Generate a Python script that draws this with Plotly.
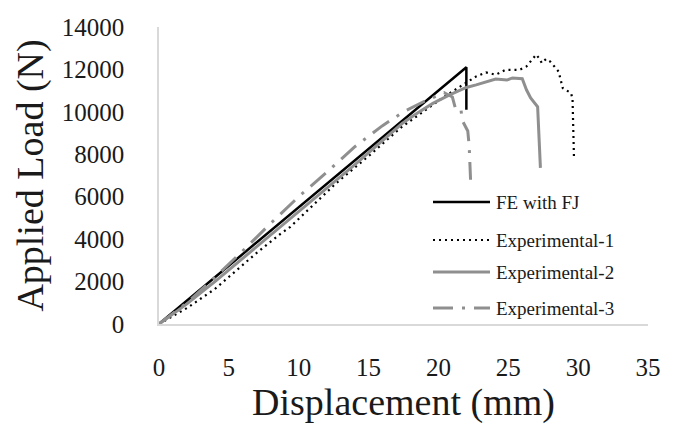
import plotly.graph_objects as go

# ---- data ----
fe_x = [0, 22.0, 22.0]
fe_y = [0, 12100, 10100]

exp1_x = [0, 2, 4, 4.7, 6.9, 8.6, 9.4, 12.7, 15.1, 17.3, 18.9, 20.3, 21.4, 22.7, 23.4, 24.1,
          24.8, 25.8, 26.3, 26.6, 27.0, 27.2, 27.4, 27.7, 28.0, 28.3, 28.6, 28.9, 29.1, 29.5,
          29.6, 29.7]
exp1_y = [0, 750, 1650, 2050, 3300, 4200, 4580, 6650, 7970, 9250, 10000, 10660, 11130, 11670,
          11860, 11750, 11980, 11980, 12140, 12370, 12700, 12530, 12300, 12490, 12370, 12140,
          11900, 11120, 11040, 10880, 10570, 7890]

exp2_x = [0, 2, 4, 6, 8, 10, 12, 14, 16, 17.4, 18.5, 19.6, 20.8, 22.0, 22.7, 23.4, 24.1,
          24.9, 25.3, 26.0, 26.3, 26.6, 27.0, 27.1, 27.3]
exp2_y = [0, 950, 2000, 3100, 4200, 5300, 6400, 7500, 8650, 9450, 9950, 10400, 10800, 11150,
          11270, 11400, 11550, 11500, 11600, 11560, 11040, 10660, 10330, 10240, 7360]

exp3_x = [0, 2, 4, 6, 8, 10, 12, 14, 16, 17.5, 19, 20.4, 21.0, 21.2, 21.6, 21.7, 22.1, 22.2, 22.3]
exp3_y = [0, 1000, 2200, 3450, 4750, 6000, 7150, 8350, 9350, 10000, 10500, 10900, 10700,
          10200, 10200, 9600, 9100, 8400, 6800]

names = ["FE with FJ", "Experimental-1", "Experimental-2", "Experimental-3"]
x_ticks = [0, 5, 10, 15, 20, 25, 30, 35]
y_ticks = [0, 2000, 4000, 6000, 8000, 10000, 12000, 14000]

GRAY = "#8f8f8f"
styles = [
    dict(color="black", width=2.5, dash="solid"),
    dict(color="black", width=2.2, dash="2px,4px"),
    dict(color=GRAY, width=3, dash="solid"),
    dict(color=GRAY, width=3, dash="20px,9px,3px,9px"),
]

fig = go.Figure()
for (xs, ys), nm, st in zip([(fe_x, fe_y), (exp1_x, exp1_y), (exp2_x, exp2_y), (exp3_x, exp3_y)],
                            names, styles):
    fig.add_trace(go.Scatter(x=xs, y=ys, mode="lines", name=nm, line=st, showlegend=False))

W, H = 682, 430
L, R, T, B = 159, 34, 27, 106
PW, PH = W - L - R, H - T - B


def px_x(px):
    return (px - L) / PW


def px_y(py):
    return (H - B - py) / PH


FONT = "Liberation Serif, Times New Roman, serif"
TXT = "#1a1a1a"

# manual legend
rows = [202, 240, 272, 308]
for nm, st, ry in zip(names, styles, rows):
    fig.add_shape(type="line", xref="paper", yref="paper",
                  x0=px_x(433), x1=px_x(490), y0=px_y(ry), y1=px_y(ry),
                  line=st)
    fig.add_annotation(xref="paper", yref="paper", x=px_x(494), y=px_y(ry),
                       text=nm, showarrow=False, xanchor="left", yanchor="middle",
                       font=dict(family=FONT, size=19, color=TXT))

fig.update_layout(
    width=W, height=H,
    margin=dict(l=L, r=R, t=T, b=B, pad=0),
    paper_bgcolor="white", plot_bgcolor="white",
    font=dict(family=FONT, color=TXT),
    xaxis=dict(range=[0, 35], tickvals=x_ticks, ticktext=[str(v) for v in x_ticks],
               showgrid=False, zeroline=False, showline=True, linecolor="#d9d9d9", linewidth=1.5,
               ticks="", tickfont=dict(size=25, family=FONT, color=TXT), ticklabelstandoff=20,
               title=dict(text="Displacement (mm)", font=dict(size=38, family=FONT, color=TXT),
                          standoff=8)),
    yaxis=dict(range=[0, 14000], tickvals=y_ticks, ticktext=[str(v) for v in y_ticks],
               showgrid=False, zeroline=False, showline=True, linecolor="#d9d9d9", linewidth=1.5,
               ticks="", tickfont=dict(size=25, family=FONT, color=TXT), ticklabelstandoff=28,
               title=dict(text="Applied Load (N)", font=dict(size=38, family=FONT, color=TXT),
                          standoff=6)),
)

fig.write_html("out.html")
